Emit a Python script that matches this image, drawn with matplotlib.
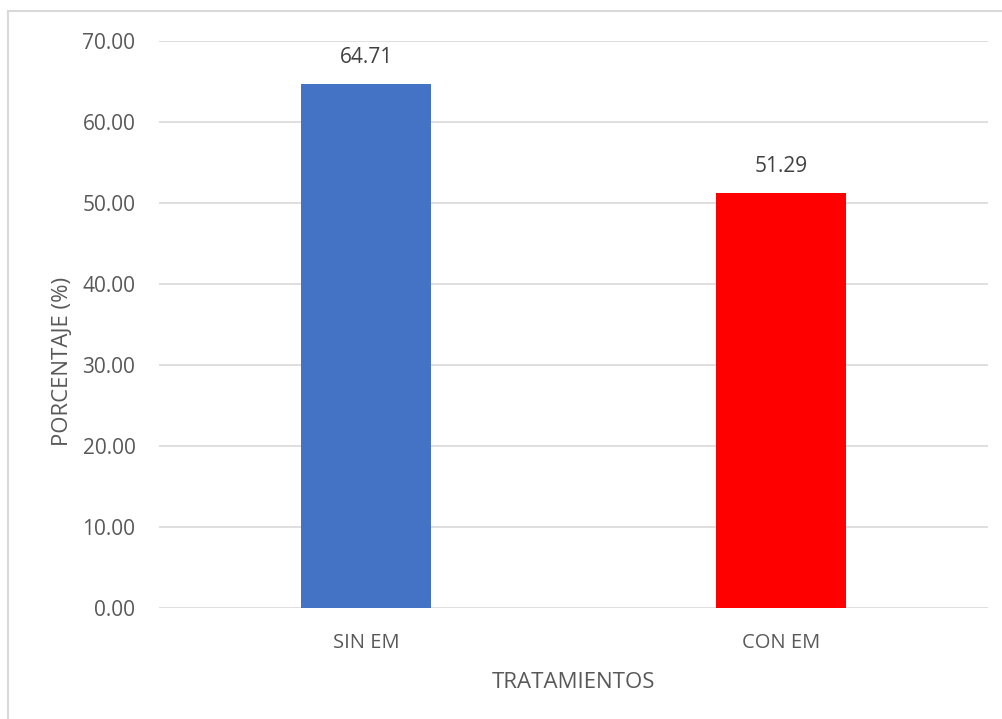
import matplotlib
matplotlib.use("Agg")
import matplotlib.pyplot as plt
from matplotlib.lines import Line2D

categories = ["SIN EM", "CON EM"]
values = [64.71, 51.29]
colors = ["#4472C4", "#FF0000"]
yticks = [0, 10, 20, 30, 40, 50, 60, 70]

plt.rcParams['font.family'] = ['Open Sans', 'DejaVu Sans']
txt = "#595959"

W, H = 1003, 719
fig = plt.figure(figsize=(W/100, H/100), dpi=100)
ax = fig.add_axes([159/W, 1-608/H, (988-159)/W, (608-41)/H])

x = list(range(len(categories)))
ax.bar(x, values, width=0.313, color=colors, zorder=3)
for xi, v in zip(x, values):
    ax.text(xi, v + 1.9, f"{v:.2f}", ha="center", va="bottom", fontsize=15, color="#404040")

ax.set_xlim(-0.5, 1.5)
ax.set_ylim(0, 70)
ax.set_yticks(yticks)
ax.set_yticklabels([f"{t:.2f}" for t in yticks], fontsize=15, color=txt)
ax.set_xticks(x)
ax.set_xticklabels(categories, fontsize=14.5, color=txt)
ax.tick_params(length=0)
ax.tick_params(axis="y", pad=17)
ax.tick_params(axis="x", pad=18)
ax.grid(axis="y", color="#d9d9d9", linewidth=1.2, zorder=0)
for s in ax.spines.values():
    s.set_visible(False)
ax.set_xlabel("TRATAMIENTOS", fontsize=16, color=txt, labelpad=14)
ax.set_ylabel("PORCENTAJE (%)", fontsize=16, color=txt)
ax.yaxis.set_label_coords(-0.104, 0.434)

fig.add_artist(Line2D([8/W, 8/W], [0, 1-11/H], transform=fig.transFigure, color="#d9d9d9", linewidth=1.5))
fig.add_artist(Line2D([8/W, 1], [1-11/H, 1-11/H], transform=fig.transFigure, color="#d9d9d9", linewidth=1.5))

fig.savefig("out.png", dpi=100)
